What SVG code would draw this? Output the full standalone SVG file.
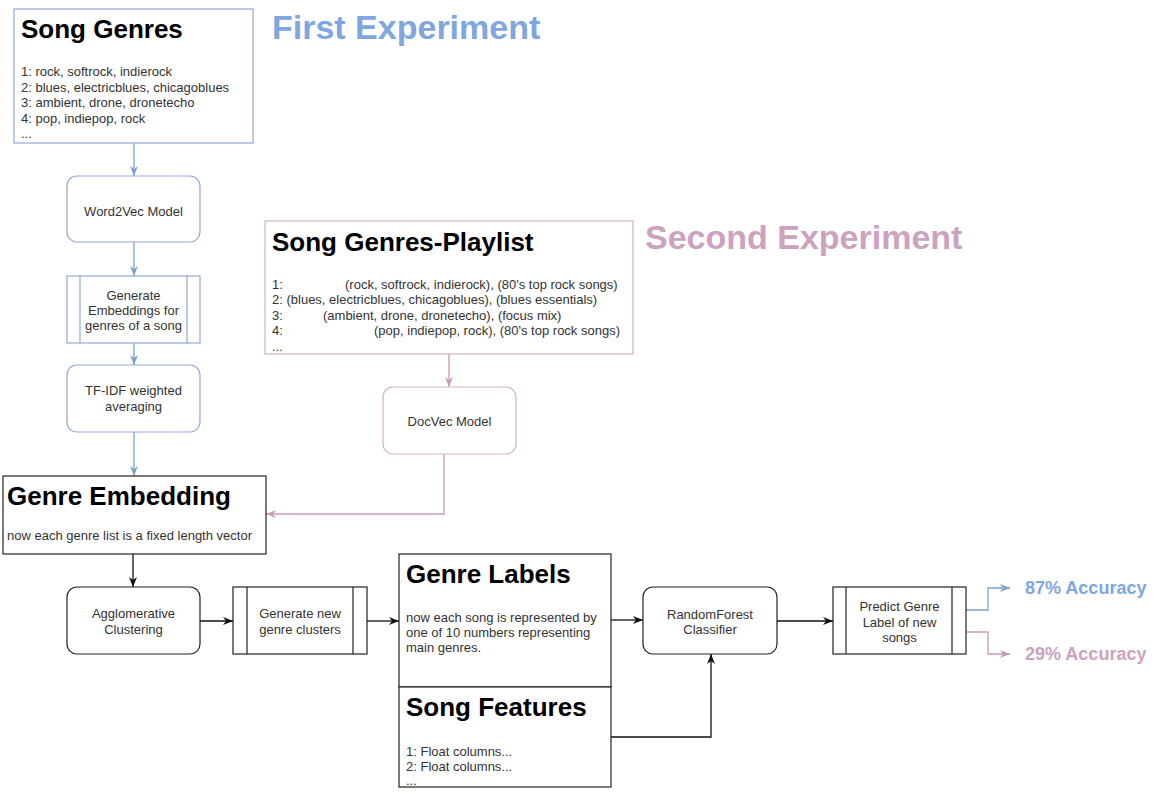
<svg xmlns="http://www.w3.org/2000/svg" width="1162" height="801" viewBox="0 0 1162 801">
<style>
text{font-family:"Liberation Sans",Arial,Helvetica,sans-serif}
.h{font-size:26px;font-weight:bold;fill:#000}
.b{font-size:13px;fill:#333}
.l{font-size:13px;fill:#333;text-anchor:middle}
.big{font-size:34px;font-weight:bold}
.acc{font-size:18px;font-weight:bold}
.blue{fill:#7EA6E0}
.pink{fill:#CDA2BE}
.nb{fill:#fff;stroke:#8FAAD3;stroke-width:1.2}
.np{fill:#fff;stroke:#D3B1C6;stroke-width:1.2}
.nk{fill:#fff;stroke:#222;stroke-width:1.2}
.cb{fill:none;stroke:#7EA1D1;stroke-width:1.3}
.cp{fill:none;stroke:#C99BB8;stroke-width:1.3}
.ck{fill:none;stroke:#111;stroke-width:1.3}
</style>
<defs>
<marker id="ab" viewBox="0 0 10 10" refX="10" refY="5" markerWidth="10" markerHeight="10" markerUnits="userSpaceOnUse" orient="auto"><path d="M0,1 L10,5 L0,9 L3,5 z" fill="#7EA1D1"/></marker>
<marker id="ap" viewBox="0 0 10 10" refX="10" refY="5" markerWidth="10" markerHeight="10" markerUnits="userSpaceOnUse" orient="auto"><path d="M0,1 L10,5 L0,9 L3,5 z" fill="#C99BB8"/></marker>
<marker id="ak" viewBox="0 0 10 10" refX="10" refY="5" markerWidth="10" markerHeight="10" markerUnits="userSpaceOnUse" orient="auto"><path d="M0,1 L10,5 L0,9 L3,5 z" fill="#111"/></marker>
</defs>
<rect width="1162" height="801" fill="#fff"/>

<g id="connectors">
<path class="cb" d="M134,143 V176" marker-end="url(#ab)"/>
<path class="cb" d="M134,242 V276" marker-end="url(#ab)"/>
<path class="cb" d="M134,343 V365" marker-end="url(#ab)"/>
<path class="cb" d="M134,432 V476" marker-end="url(#ab)"/>
<path class="cp" d="M449,354 V387" marker-end="url(#ap)"/>
<path class="cp" d="M444,454 V514 H266" marker-end="url(#ap)"/>
<path class="ck" d="M133,554 V587" marker-end="url(#ak)"/>
<path class="ck" d="M200,621 H233" marker-end="url(#ak)"/>
<path class="ck" d="M367,621 H399" marker-end="url(#ak)"/>
<path class="ck" d="M611,620 H643" marker-end="url(#ak)"/>
<path class="ck" d="M611,737 H711 V654" marker-end="url(#ak)"/>
<path class="ck" d="M777,621 H833" marker-end="url(#ak)"/>
<path class="cb" d="M966,610 H988 V588 H1010" marker-end="url(#ab)"/>
<path class="cp" d="M966,632 H988 V654 H1010" marker-end="url(#ap)"/>
</g>

<g id="song-genres">
<rect class="nb" x="14" y="9" width="239" height="134"/>
<text class="h" x="21" y="38">Song Genres</text>
<text class="b" x="21" y="76">1: rock, softrock, indierock</text>
<text class="b" x="21" y="91.6">2: blues, electricblues, chicagoblues</text>
<text class="b" x="21" y="107.2">3: ambient, drone, dronetecho</text>
<text class="b" x="21" y="122.8">4: pop, indiepop, rock</text>
<text class="b" x="21" y="138.4">...</text>
</g>

<g id="first-experiment">
<text class="big blue" x="272" y="39">First Experiment</text>
</g>

<g id="word2vec">
<rect class="nb" x="67" y="176" width="133" height="66" rx="10"/>
<text class="l" x="133.5" y="215.5">Word2Vec Model</text>
</g>

<g id="generate-embeddings">
<rect class="nb" x="67" y="276" width="133" height="67"/>
<line class="nb" x1="80" y1="276" x2="80" y2="343"/>
<line class="nb" x1="187" y1="276" x2="187" y2="343"/>
<text class="l" x="133.5" y="299.5">Generate</text>
<text class="l" x="133.5" y="314.5">Embeddings for</text>
<text class="l" x="133.5" y="330">genres of a song</text>
</g>

<g id="tfidf">
<rect class="nb" x="67" y="365" width="133" height="67" rx="10"/>
<text class="l" x="133.5" y="395">TF-IDF weighted</text>
<text class="l" x="133.5" y="411">averaging</text>
</g>

<g id="genre-embedding">
<rect class="nk" x="3" y="476" width="263" height="78"/>
<text class="h" x="7" y="505">Genre Embedding</text>
<text class="b" x="7" y="539.5">now each genre list is a fixed length vector</text>
</g>

<g id="song-genres-playlist">
<rect class="np" x="265" y="221" width="368" height="133"/>
<text class="h" x="272" y="251">Song Genres-Playlist</text>
<text class="b" y="288.5"><tspan x="272">1:</tspan><tspan x="345">(rock, softrock, indierock), (80's top rock songs)</tspan></text>
<text class="b" x="272" y="303.5">2: (blues, electricblues, chicagoblues), (blues essentials)</text>
<text class="b" y="319.5"><tspan x="272">3:</tspan><tspan x="323">(ambient, drone, dronetecho), (focus mix)</tspan></text>
<text class="b" y="335"><tspan x="272">4:</tspan><tspan x="374">(pop, indiepop, rock), (80's top rock songs)</tspan></text>
<text class="b" x="272" y="351">...</text>
</g>

<g id="second-experiment">
<text class="big pink" x="645" y="249">Second Experiment</text>
</g>

<g id="docvec">
<rect class="np" x="383" y="387" width="133" height="67" rx="10"/>
<text class="l" x="449.5" y="425.5">DocVec Model</text>
</g>

<g id="agglomerative">
<rect class="nk" x="67" y="587" width="133" height="67" rx="10"/>
<text class="l" x="133.5" y="617.5">Agglomerative</text>
<text class="l" x="133.5" y="633.5">Clustering</text>
</g>

<g id="generate-clusters">
<rect class="nk" x="233" y="587" width="134" height="67"/>
<line class="nk" x1="247" y1="587" x2="247" y2="654"/>
<line class="nk" x1="353" y1="587" x2="353" y2="654"/>
<text class="l" x="300" y="617.5">Generate new</text>
<text class="l" x="300" y="633.5">genre clusters</text>
</g>

<g id="genre-labels">
<rect class="nk" x="399" y="554" width="212" height="133"/>
<text class="h" x="406" y="583">Genre Labels</text>
<text class="b" x="406" y="621.5">now each song is represented by</text>
<text class="b" x="406" y="636.5">one of 10 numbers representing</text>
<text class="b" x="406" y="651.5">main genres.</text>
</g>

<g id="song-features">
<rect class="nk" x="399" y="687" width="212" height="100"/>
<text class="h" x="406" y="716">Song Features</text>
<text class="b" x="406" y="755.5">1: Float columns...</text>
<text class="b" x="406" y="770.5">2: Float columns...</text>
<text class="b" x="406" y="785">...</text>
</g>

<g id="randomforest">
<rect class="nk" x="643" y="587" width="134" height="67" rx="10"/>
<text class="l" x="710" y="618.5">RandomForest</text>
<text class="l" x="710" y="633.5">Classifier</text>
</g>

<g id="predict">
<rect class="nk" x="833" y="587" width="133" height="67"/>
<line class="nk" x1="846" y1="587" x2="846" y2="654"/>
<line class="nk" x1="952" y1="587" x2="952" y2="654"/>
<text class="l" x="899.5" y="610.5">Predict Genre</text>
<text class="l" x="899.5" y="626.5">Label of new</text>
<text class="l" x="899.5" y="641.5">songs</text>
</g>

<g id="accuracy-87">
<text class="acc blue" x="1025" y="594">87% Accuracy</text>
</g>
<g id="accuracy-29">
<text class="acc pink" x="1025" y="660">29% Accuracy</text>
</g>
</svg>
